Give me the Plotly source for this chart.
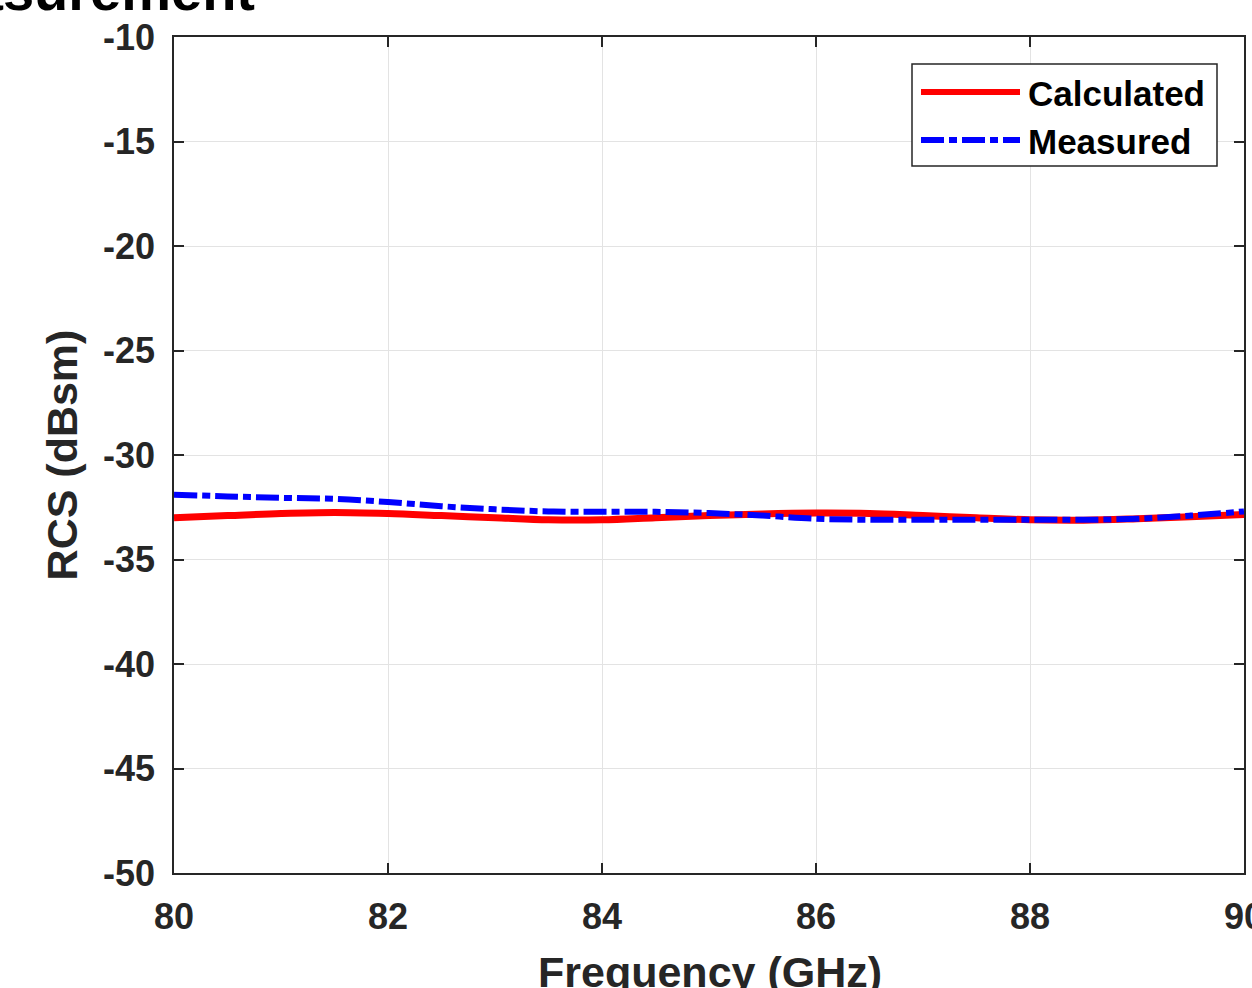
import plotly.graph_objects as go

# Frequency samples (GHz) and RCS values (dBsm)
freq_ghz = [80.0, 80.5, 81.0, 81.5, 82.0, 82.5, 83.0, 83.5, 84.0, 84.5, 85.0,
            85.5, 86.0, 86.5, 87.0, 87.5, 88.0, 88.5, 89.0, 89.5, 90.0]
rcs_calculated = [-33.0, -32.9, -32.8, -32.75, -32.8, -32.9, -33.0, -33.1, -33.1, -33.0, -32.9,
                  -32.82, -32.78, -32.8, -32.9, -33.0, -33.1, -33.12, -33.05, -32.95, -32.85]
rcs_measured = [-31.9, -31.98, -32.05, -32.1, -32.25, -32.45, -32.6, -32.7, -32.72, -32.72, -32.78,
                -32.9, -33.05, -33.1, -33.1, -33.1, -33.1, -33.1, -33.05, -32.9, -32.7]

x_ticks = [80, 82, 84, 86, 88, 90]
y_ticks = [-50, -45, -40, -35, -30, -25, -20, -15, -10]
series_names = ["Calculated", "Measured"]

FONT = "Liberation Sans"
AX_COLOR = "#262626"
DASHDOT = "23px,5px,8px,5px"

fig = go.Figure()
fig.add_trace(go.Scatter(x=freq_ghz, y=rcs_calculated, mode="lines", name=series_names[0],
                         line=dict(color="#ff0000", width=7, shape="spline"), showlegend=False))
fig.add_trace(go.Scatter(x=freq_ghz, y=rcs_measured, mode="lines", name=series_names[1],
                         line=dict(color="#0000ff", width=6, dash=DASHDOT, shape="spline"),
                         showlegend=False))

axis_common = dict(
    showgrid=True, gridcolor="#e3e3e3", gridwidth=1,
    showline=True, linecolor=AX_COLOR, linewidth=1.5, mirror="allticks",
    ticks="inside", ticklen=10, tickwidth=1.5, tickcolor=AX_COLOR,
    zeroline=False, ticklabeloverflow="allow", automargin=False,
    tickfont=dict(family=FONT, size=36, color=AX_COLOR, weight="bold"),
)

fig.update_xaxes(range=[80, 90], tickvals=x_ticks, ticktext=[str(v) for v in x_ticks],
                 ticklabelstandoff=11,
                 **axis_common)
fig.update_yaxes(range=[-50, -10], tickvals=y_ticks, ticktext=[str(v) for v in y_ticks],
                 title=dict(text="<b>RCS (dBsm)</b>", font=dict(family=FONT, size=43, color=AX_COLOR),
                            standoff=12),
                 ticklabelstandoff=10,
                 **axis_common)

# Legend box and x-axis title placed in paper coordinates
L, R, T, B = 174, 1244, 37, 873
def px(xp):
    return (xp - L) / (R - L)
def py(yp):
    return (B - yp) / (B - T)

shapes = [
    dict(type="rect", xref="paper", yref="paper", x0=px(912), x1=px(1217), y0=py(166), y1=py(64),
         line=dict(color=AX_COLOR, width=1.5), fillcolor="white", layer="above"),
    dict(type="line", xref="paper", yref="paper", x0=px(921), x1=px(1020), y0=py(92), y1=py(92),
         line=dict(color="#ff0000", width=6), layer="above"),
    dict(type="line", xref="paper", yref="paper", x0=px(921), x1=px(1020), y0=py(140), y1=py(140),
         line=dict(color="#0000ff", width=6, dash=DASHDOT), layer="above"),
]
annotations = [
    dict(text="<b>%s</b>" % series_names[0], xref="paper", yref="paper", x=px(1026), y=py(93),
         xanchor="left", yanchor="middle", showarrow=False,
         font=dict(family=FONT, size=35, color="black")),
    dict(text="<b>%s</b>" % series_names[1], xref="paper", yref="paper", x=px(1026), y=py(141),
         xanchor="left", yanchor="middle", showarrow=False,
         font=dict(family=FONT, size=35, color="black")),
    dict(text="<b>Frequency (GHz)</b>", xref="paper", yref="paper", x=px(710), y=py(946),
         xanchor="center", yanchor="top", showarrow=False,
         font=dict(family=FONT, size=43, color=AX_COLOR)),
    dict(text="<b>Measurement</b>", xref="paper", yref="paper", x=px(257), y=py(24),
         xanchor="right", yanchor="bottom", showarrow=False,
         font=dict(family=FONT, size=56, color="black")),
]

fig.update_layout(
    width=1252, height=988,
    margin=dict(l=L, r=1252 - R, t=T, b=988 - B),
    paper_bgcolor="white", plot_bgcolor="white",
    shapes=shapes, annotations=annotations,
    showlegend=False,
)

fig.write_html("out.html")
